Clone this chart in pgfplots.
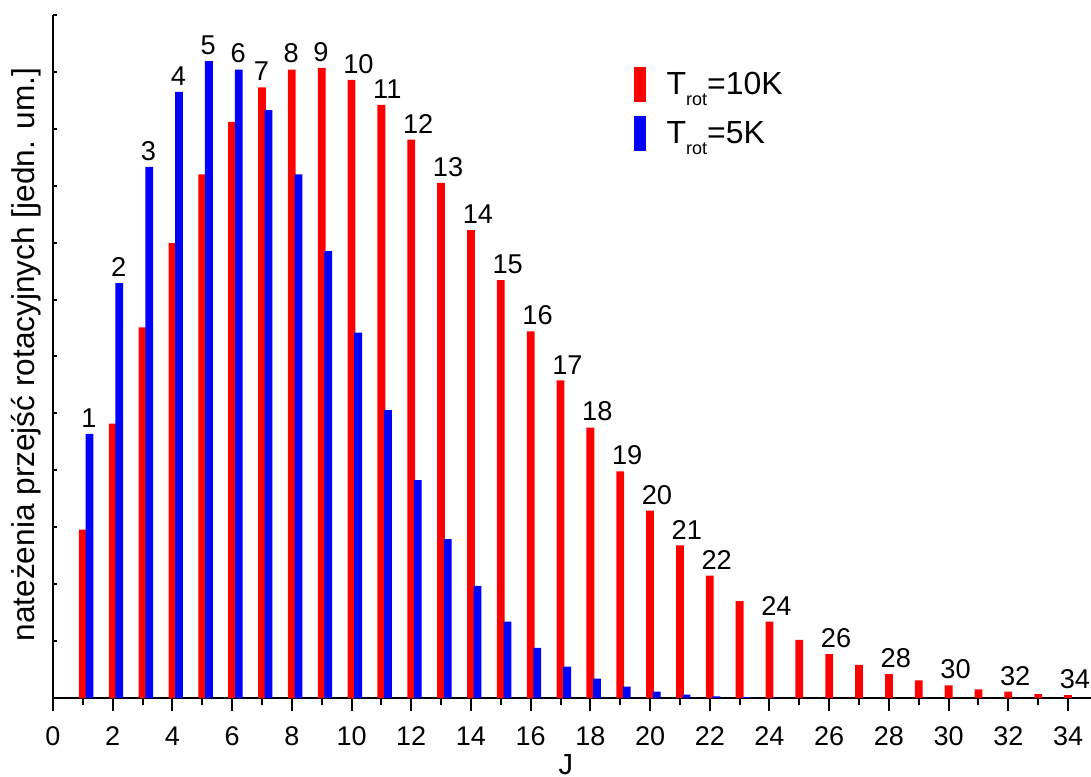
\documentclass[border=0pt]{standalone}
\usepackage{pgfplots}
\pgfplotsset{compat=1.18}
\usepackage{pgfplotstable}
\usepackage{fontspec}
\setmainfont{Liberation Sans}
\usetikzlibrary{calc}

\pgfplotstableread{
J red blue
1 2.96 4.64
2 4.82 7.29
3 6.51 9.33
4 7.99 10.65
5 9.20 11.19
6 10.12 11.04
7 10.73 10.33
8 11.04 9.20
9 11.07 7.85
10 10.86 6.42
11 10.42 5.06
12 9.81 3.83
13 9.05 2.79
14 8.22 1.97
15 7.34 1.34
16 6.44 0.88
17 5.58 0.55
18 4.75 0.34
19 3.98 0.20
20 3.29 0.11
21 2.68 0.06
22 2.15 0.03
23 1.70 0.015
24 1.34 0.007
25 1.02 0
26 0.77 0
27 0.58 0
28 0.42 0
29 0.31 0
30 0.22 0
31 0.15 0
32 0.11 0
33 0.07 0
34 0.05 0
}\datatable

\pgfplotstableread{
J y lab
1 4.64 1
2 7.29 2
3 9.33 3
4 10.65 4
5 11.19 5
6 11.04 6
}\bluelab

\pgfplotstableread{
J y lab
7 10.73 7
8 11.04 8
9 11.07 9
10 10.86 10
11 10.42 11
12 9.81 12
13 9.05 13
14 8.22 14
15 7.34 15
16 6.44 16
17 5.58 17
18 4.75 18
19 3.98 19
20 3.29 20
21 2.68 21
22 2.15 22
24 1.34 24
26 0.77 26
28 0.42 28
30 0.22 30
32 0.11 32
34 0.05 34
}\redlab

\begin{document}
\begin{tikzpicture}
\begin{axis}[
  scale only axis, width=519pt, height=341.5pt,
  xmin=0, xmax=34.77, ymin=0, ymax=12,
  axis x line=bottom, axis y line=left,
  axis line style={-, line width=1.2pt},
  xtick={0,2,...,34}, minor xtick={1,3,...,33},
  ytick={0,1,...,12}, yticklabels={},
  xtick align=outside, ytick align=inside,
  tick style={line width=1pt, black},
  x tick style={/pgfplots/major tick length=6.5pt, /pgfplots/minor tick length=3.5pt},
  y tick style={/pgfplots/major tick length=2pt},
  /pgf/number format/assume math mode=true,
  ticklabel style={font=\fontsize{13.5}{15}\selectfont},
  xticklabel style={anchor=north, inner sep=0pt, yshift=-10pt},
  xlabel={J},
  xlabel style={at={(axis description cs:0.494,0)}, anchor=north, inner sep=0pt, yshift=-28pt, font=\fontsize{14.5}{16}\selectfont},
  ylabel={nateżenia przejść rotacyjnych [jedn. um.]},
  ylabel style={at={(axis description cs:-0.0178,0.503)}, anchor=base, rotate=0, inner sep=0pt, font=\fontsize{15.8}{17}\selectfont},
  legend style={draw=none, fill=none, inner sep=0pt, at={(axis description cs:0.559,0.924)}, anchor=north west, row sep=7pt, column sep=10.5pt, font=\fontsize{16}{18}\selectfont, nodes={inner sep=0pt}},
  legend cell align=left,
  clip=false,
]
\addplot[ybar, bar width=3.9pt, bar shift=0pt, fill=red, draw=none,
  legend image code/.code={\fill[red] (0pt,-8.75pt) rectangle (6pt,8.75pt);}]
  table[x=J, y=red] {\datatable};
\addlegendentry{T\raisebox{-5.4pt}{\fontsize{9}{11}\selectfont rot}=10K}
\addplot[ybar, bar width=3.9pt, bar shift=3.3pt, fill=blue, draw=none,
  legend image code/.code={\fill[blue] (0pt,-8.75pt) rectangle (6pt,8.75pt);}]
  table[x=J, y=blue] {\datatable};
\addlegendentry{T\raisebox{-5.4pt}{\fontsize{9}{11}\selectfont rot}=5K}
\addplot[draw=none, mark=none, forget plot, nodes near coords, point meta=explicit symbolic,
  nodes near coords style={anchor=south west, inner sep=0pt, xshift=-1pt, yshift=3pt, font=\fontsize{13.6}{15}\selectfont, black}]
  table[x=J, y=y, meta=lab] {\bluelab};
\addplot[draw=none, mark=none, forget plot, nodes near coords, point meta=explicit symbolic,
  nodes near coords style={anchor=south west, inner sep=0pt, xshift=-4.3pt, yshift=3pt, font=\fontsize{13.6}{15}\selectfont, black}]
  table[x=J, y=y, meta=lab] {\redlab};
\end{axis}
\pgfresetboundingbox
\path[use as bounding box] ($(current axis.south west)+(-26.5pt,-39pt)$) rectangle ($(current axis.north east)+(0pt,7.5pt)$);
\end{tikzpicture}
\end{document}
